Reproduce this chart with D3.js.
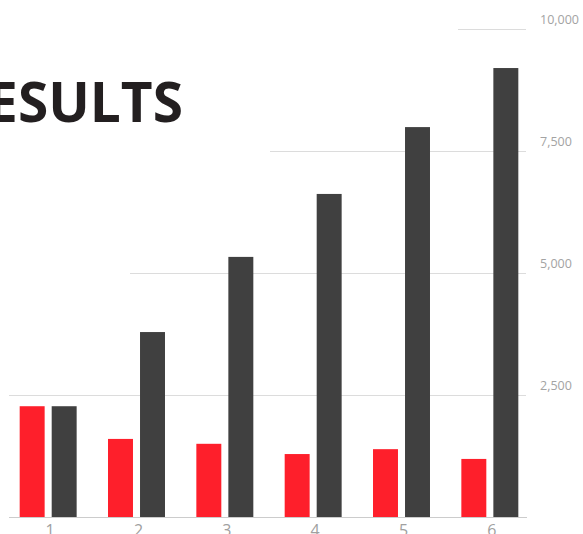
<!DOCTYPE html>
<html>
<head>
<meta charset="utf-8">
<script src="https://cdn.jsdelivr.net/npm/d3@7"></script>
<style>
  body { margin: 0; background: #fff; overflow: hidden; }
  svg { display: block; font-family: "Open Sans", sans-serif; }
</style>
</head>
<body>
<script>
// data
const categories = ["1", "2", "3", "4", "5", "6"];
const seriesKeys = ["red", "dark"];
const redValues = [2270, 1600, 1500, 1290, 1390, 1190];
const darkValues = [2270, 3790, 5330, 6620, 7990, 9200];
const yTicks = [2500, 5000, 7500, 10000];

// layout
const width = 583, height = 534;
const plotLeft = 4, plotRight = 534;
const yTop = 29, yBottom = 517;
// gridlines start staggered
const gridStart = {2500: 9, 5000: 130, 7500: 270, 10000: 458};
const gridEnd = 526;
const colors = {red: "#fe1f2b", dark: "#404040"};

const svg = d3.select("body").append("svg")
    .attr("width", width)
    .attr("height", height);

const x0 = d3.scaleBand().domain(categories).range([plotLeft, plotRight])
    .paddingInner(0.355).paddingOuter(0.1775);
const x1 = d3.scaleBand().domain(seriesKeys).range([0, x0.bandwidth()])
    .paddingInner(0.22);
const y = d3.scaleLinear().domain([0, 10000]).range([yBottom, yTop]);

// title
svg.append("text")
    .attr("x", 183)
    .attr("y", 122)
    .attr("text-anchor", "end")
    .attr("font-size", 55)
    .attr("font-weight", 700)
    .attr("fill", "#231f20")
    .text("RESULTS");

// gridlines
svg.append("g")
    .selectAll("line")
    .data(yTicks)
    .join("line")
    .attr("x1", d => gridStart[d])
    .attr("x2", gridEnd)
    .attr("y1", d => Math.round(y(d)) + 0.5)
    .attr("y2", d => Math.round(y(d)) + 0.5)
    .attr("stroke", "#dcdcdc");

// y labels
const yAxis = d3.axisRight(y).tickValues(yTicks).tickSize(0).tickFormat(d3.format(","));
svg.append("g")
    .attr("transform", "translate(540,0)")
    .call(yAxis)
    .call(g => g.select(".domain").remove())
    .call(g => g.selectAll("text")
        .attr("x", 0)
        .attr("dy", "-0.42em")
        .attr("font-size", 12.5)
        .attr("font-family", "Open Sans, sans-serif")
        .attr("fill", "#a3a3a3"));

// bars
const rows = categories.map((c, i) => ({cat: c, red: redValues[i], dark: darkValues[i]}));
svg.append("g")
    .selectAll("g")
    .data(rows)
    .join("g")
    .attr("transform", d => `translate(${x0(d.cat)},0)`)
    .selectAll("rect")
    .data(d => seriesKeys.map(k => ({key: k, value: d[k]})))
    .join("rect")
    .attr("x", d => x1(d.key))
    .attr("width", x1.bandwidth())
    .attr("y", d => y(d.value))
    .attr("height", d => y(0) - y(d.value))
    .attr("fill", d => colors[d.key]);

// baseline
svg.append("line")
    .attr("x1", 9)
    .attr("x2", 527)
    .attr("y1", yBottom + 0.5)
    .attr("y2", yBottom + 0.5)
    .attr("stroke", "#cccccc");

// x labels
const xAxis = d3.axisBottom(x0).tickSize(0);
svg.append("g")
    .attr("transform", `translate(0,${yBottom})`)
    .call(xAxis)
    .call(g => g.select(".domain").remove())
    .call(g => g.selectAll("text")
        .attr("x", 2)
        .attr("y", 19)
        .attr("dy", 0)
        .attr("font-size", 16)
        .attr("font-family", "Open Sans, sans-serif")
        .attr("fill", "#a0a0a0"));
</script>
</body>
</html>
